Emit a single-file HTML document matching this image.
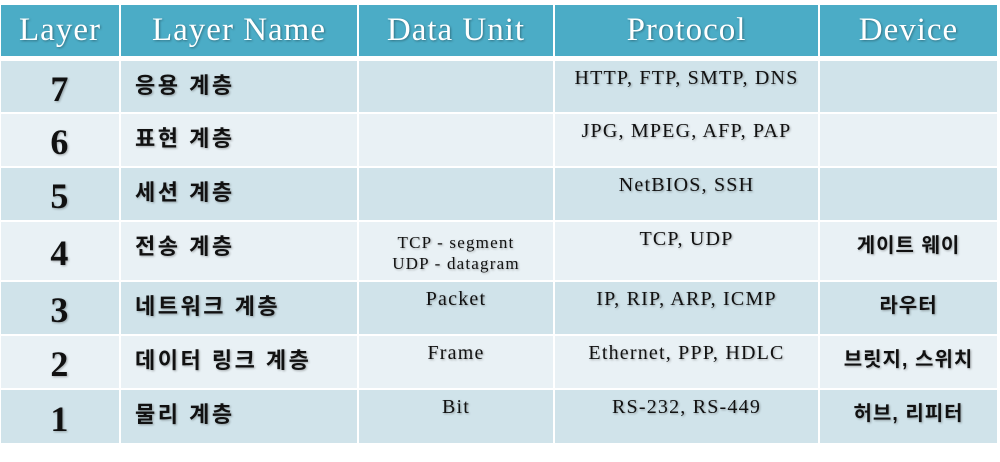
<!DOCTYPE html>
<html><head><meta charset="utf-8"><style>
body{margin:0;width:1000px;height:462px;background:#fff;position:relative;overflow:hidden;font-family:"Liberation Serif","Noto Serif CJK SC",serif}
.c{position:absolute;display:flex;align-items:center;justify-content:center;text-align:center;color:#111;font-size:20px;letter-spacing:1.2px;text-shadow:1px 1px 2px rgba(0,0,0,.3);white-space:nowrap}
.h{background:#4bacc6;color:#fff;font-size:33px;letter-spacing:1px;text-shadow:1px 1px 2px rgba(0,0,0,.35)}
.a{background:#d0e3ea}.b{background:#e9f1f5}
.n{font-size:36px;font-weight:bold;padding-top:4px;box-sizing:border-box}
.k{font-family:"Liberation Sans","Noto Sans CJK KR",sans-serif;font-weight:bold;font-size:22px;letter-spacing:2.5px}
.l{justify-content:flex-start;padding-left:14px;box-sizing:border-box}
.t{align-items:flex-start;padding-top:6px;box-sizing:border-box}
.k.t{padding-top:7px}
.d{font-size:20px;letter-spacing:1px}
</style></head><body>
<div class="c h" style="left:1px;top:5px;width:118px;height:51px">Layer</div>
<div class="c h" style="left:121px;top:5px;width:236px;height:51px">Layer Name</div>
<div class="c h" style="left:359px;top:5px;width:194px;height:51px">Data Unit</div>
<div class="c h" style="left:555px;top:5px;width:263px;height:51px">Protocol</div>
<div class="c h" style="left:820px;top:5px;width:177px;height:51px">Device</div>

<div class="c a n" style="left:1px;top:61px;width:118px;height:51px">7</div>
<div class="c a k l t" style="left:121px;top:61px;width:236px;height:51px">응용 계층</div>
<div class="c a" style="left:359px;top:61px;width:194px;height:51px"></div>
<div class="c a t" style="left:555px;top:61px;width:263px;height:51px">HTTP, FTP, SMTP, DNS</div>
<div class="c a" style="left:820px;top:61px;width:177px;height:51px"></div>

<div class="c b n" style="left:1px;top:114px;width:118px;height:52px">6</div>
<div class="c b k l t" style="left:121px;top:114px;width:236px;height:52px">표현 계층</div>
<div class="c b" style="left:359px;top:114px;width:194px;height:52px"></div>
<div class="c b t" style="left:555px;top:114px;width:263px;height:52px">JPG, MPEG, AFP, PAP</div>
<div class="c b" style="left:820px;top:114px;width:177px;height:52px"></div>

<div class="c a n" style="left:1px;top:168px;width:118px;height:52px">5</div>
<div class="c a k l t" style="left:121px;top:168px;width:236px;height:52px">세션 계층</div>
<div class="c a" style="left:359px;top:168px;width:194px;height:52px"></div>
<div class="c a t" style="left:555px;top:168px;width:263px;height:52px">NetBIOS, SSH</div>
<div class="c a" style="left:820px;top:168px;width:177px;height:52px"></div>

<div class="c b n" style="left:1px;top:222px;width:118px;height:58px">4</div>
<div class="c b k l t" style="left:121px;top:222px;width:236px;height:58px">전송 계층</div>
<div class="c b t" style="left:359px;top:222px;width:194px;height:58px;font-size:17px;letter-spacing:1.2px;line-height:21px;padding-top:10px">TCP - segment<br>UDP - datagram</div>
<div class="c b t" style="left:555px;top:222px;width:263px;height:58px">TCP, UDP</div>
<div class="c b k t d" style="left:820px;top:222px;width:177px;height:58px">게이트 웨이</div>

<div class="c a n" style="left:1px;top:282px;width:118px;height:52px">3</div>
<div class="c a k l t" style="left:121px;top:282px;width:236px;height:52px">네트워크 계층</div>
<div class="c a t" style="left:359px;top:282px;width:194px;height:52px">Packet</div>
<div class="c a t" style="left:555px;top:282px;width:263px;height:52px">IP, RIP, ARP, ICMP</div>
<div class="c a k t d" style="left:820px;top:282px;width:177px;height:52px">라우터</div>

<div class="c b n" style="left:1px;top:336px;width:118px;height:52px">2</div>
<div class="c b k l t" style="left:121px;top:336px;width:236px;height:52px">데이터 링크 계층</div>
<div class="c b t" style="left:359px;top:336px;width:194px;height:52px">Frame</div>
<div class="c b t" style="left:555px;top:336px;width:263px;height:52px">Ethernet, PPP, HDLC</div>
<div class="c b k t d" style="left:820px;top:336px;width:177px;height:52px">브릿지, 스위치</div>

<div class="c a n" style="left:1px;top:390px;width:118px;height:53px">1</div>
<div class="c a k l t" style="left:121px;top:390px;width:236px;height:53px">물리 계층</div>
<div class="c a t" style="left:359px;top:390px;width:194px;height:53px">Bit</div>
<div class="c a t" style="left:555px;top:390px;width:263px;height:53px">RS-232, RS-449</div>
<div class="c a k t d" style="left:820px;top:390px;width:177px;height:53px">허브, 리피터</div>
</body></html>
